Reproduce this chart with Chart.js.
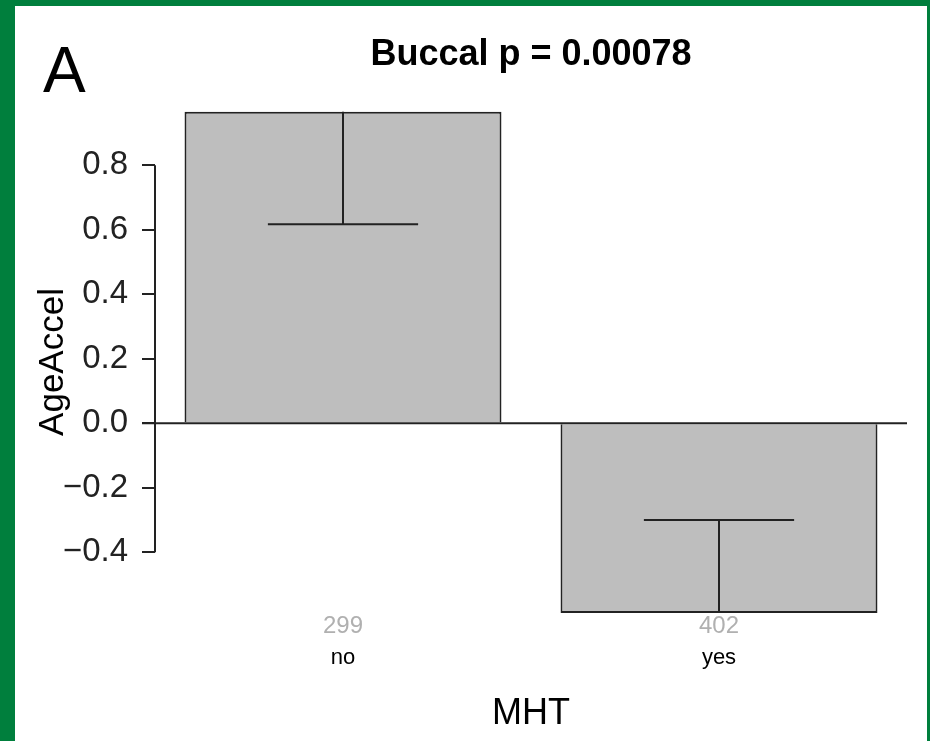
<!DOCTYPE html>
<html>
<head>
<meta charset="utf-8">
<script src="https://cdn.jsdelivr.net/npm/chart.js@4"></script>
<style>
    body { margin: 0; background: #007f3d; width: 930px; height: 741px; overflow: hidden; }
    #panel { position: absolute; left: 15px; top: 6px; width: 912px; height: 735px; background: #ffffff; }
</style>
</head>
<body>
<div id="panel"><canvas id="grafico" width="912" height="735"></canvas></div>
<script>
// Datos
const categorias = ["no", "yes"];
const medias = [0.966, -0.588];
const finError = [0.617, -0.300];
const conteos = ["299", "402"];
const yTicks = [-0.4, -0.2, 0.0, 0.2, 0.4, 0.6, 0.8];

const tituloTexto = "Buccal p = 0.00078";
const panelLetra = "A";
const ejeX = "MHT";
const ejeY = "AgeAccel";

const fuente = "'Liberation Sans', Arial, sans-serif";
const lineaColor = "#222222";

function formatoTick(v) {
    const s = Math.abs(v).toFixed(1);
    return (v < -1e-9 ? "\u2212" : "") + s;
}

// Plugin para barras de error, línea cero, eje y textos
const extras = {
    id: "extras",
    afterDatasetsDraw(chart) {
        const ctx = chart.ctx;
        const area = chart.chartArea;
        const y = chart.scales.y;
        const meta = chart.getDatasetMeta(0);

        ctx.save();
        ctx.strokeStyle = lineaColor;
        ctx.lineWidth = 2;

        // Barras de error
        meta.data.forEach((bar, i) => {
            const x = bar.x;
            const y0 = y.getPixelForValue(medias[i]);
            const y1 = y.getPixelForValue(finError[i]);
            const medio = bar.width * 0.237;
            ctx.beginPath();
            ctx.moveTo(x, y0);
            ctx.lineTo(x, y1);
            ctx.moveTo(x - medio, y1);
            ctx.lineTo(x + medio, y1);
            ctx.stroke();
        });

        // Línea horizontal en cero
        const yCero = y.getPixelForValue(0);
        ctx.beginPath();
        ctx.moveTo(area.left - 13, yCero);
        ctx.lineTo(area.right, yCero);
        ctx.stroke();

        // Línea del eje y (solo entre ticks)
        ctx.beginPath();
        ctx.moveTo(area.left, y.getPixelForValue(yTicks[yTicks.length - 1]));
        ctx.lineTo(area.left, y.getPixelForValue(yTicks[0]));
        ctx.stroke();

        // Textos
        ctx.fillStyle = "#000000";
        ctx.textAlign = "left";
        ctx.textBaseline = "alphabetic";
        ctx.font = "64px " + fuente;
        ctx.fillText(panelLetra, 28, 86);

        ctx.textAlign = "center";
        ctx.font = "bold 36px " + fuente;
        ctx.fillText(tituloTexto, (area.left + area.right) / 2, 59);

        ctx.font = "36px " + fuente;
        ctx.fillText(ejeX, (area.left + area.right) / 2, 718);

        meta.data.forEach((bar, i) => {
            ctx.fillStyle = "#b0b0b0";
            ctx.font = "24px " + fuente;
            ctx.fillText(conteos[i], bar.x, 627);
            ctx.fillStyle = "#000000";
            ctx.font = "22px " + fuente;
            ctx.fillText(categorias[i], bar.x, 658);
        });

        ctx.translate(48, 356);
        ctx.rotate(-Math.PI / 2);
        ctx.font = "35px " + fuente;
        ctx.fillText(ejeY, 0, 0);
        ctx.restore();
    }
};

const ctx = document.getElementById("grafico").getContext("2d");
new Chart(ctx, {
    type: "bar",
    data: {
        labels: categorias,
        datasets: [{
            data: medias,
            backgroundColor: "#bebebe",
            borderColor: lineaColor,
            borderWidth: 2,
            borderSkipped: "start",
            categoryPercentage: 1.0,
            barPercentage: 0.843
        }]
    },
    options: {
        responsive: false,
        animation: false,
        layout: { padding: { top: 85, right: 20, bottom: 108, left: 0 } },
        plugins: {
            legend: { display: false },
            tooltip: { enabled: false }
        },
        scales: {
            x: { display: false },
            y: {
                min: -0.65,
                max: 1.03,
                afterBuildTicks: (scale) => {
                    scale.ticks = yTicks.map(v => ({ value: v }));
                },
                afterFit: (scale) => {
                    scale.width = 140;
                },
                border: { display: false },
                grid: {
                    drawOnChartArea: false,
                    drawTicks: true,
                    tickLength: 13,
                    color: lineaColor,
                    lineWidth: 2
                },
                ticks: {
                    padding: 14,
                    color: "#222222",
                    font: { family: fuente, size: 33 },
                    callback: (v) => formatoTick(v)
                }
            }
        }
    },
    plugins: [extras]
});
</script>
</body>
</html>
